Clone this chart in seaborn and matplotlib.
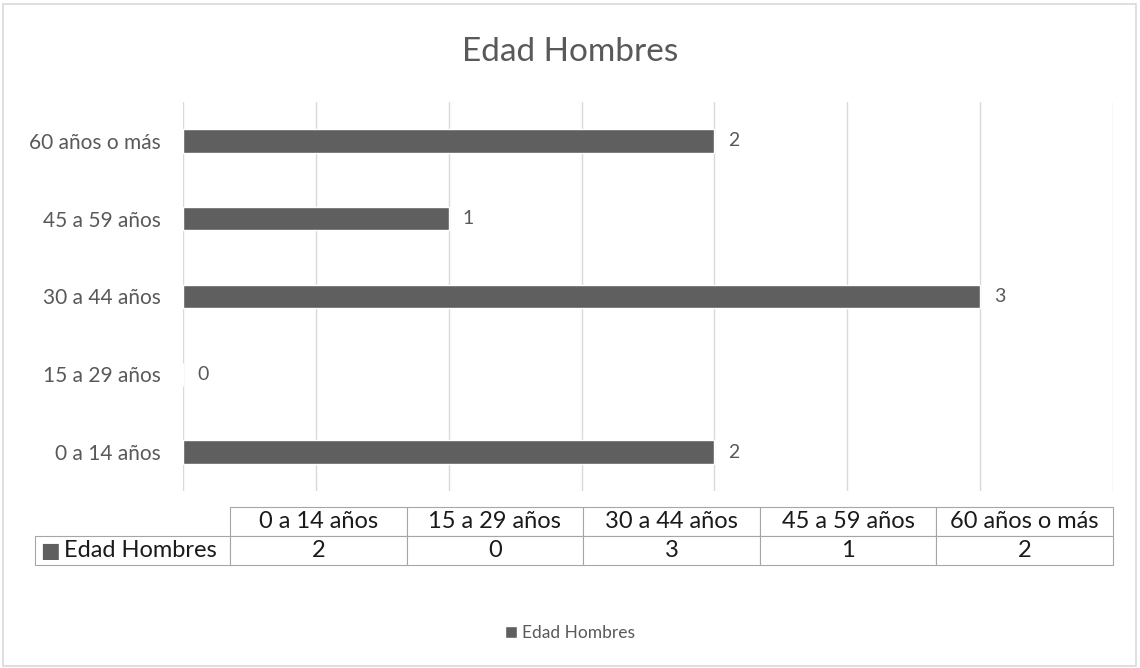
import pandas as pd
import matplotlib.pyplot as plt
import seaborn as sns
from matplotlib.patches import Rectangle, Patch

# Data
categories = ["0 a 14 años", "15 a 29 años", "30 a 44 años", "45 a 59 años", "60 años o más"]
values = [2, 0, 3, 1, 2]
series_name = "Edad Hombres"
title = "Edad Hombres"

df = pd.DataFrame({"Edad": categories, "Cantidad": values})

bar_color = "#5f5f5f"
text_color = "#595959"
grid_color = "#d9d9d9"
font = ["Lato", "DejaVu Sans"]

sns.set_style("white")
plt.rcParams["font.family"] = font

fig = plt.figure(figsize=(11.4, 6.68), dpi=100)
ax = fig.add_axes([183 / 1140, 1 - 491 / 668, 930 / 1140, 389 / 668])

# Excel draws first category at the bottom
sns.barplot(data=df, x="Cantidad", y="Edad", order=categories[::-1], orient="h",
            color=bar_color, width=0.3, saturation=1, ax=ax)

ax.set_xlim(0, 3.5)
ax.set_xticks([i * 0.5 for i in range(8)])
ax.xaxis.grid(True, color=grid_color, linewidth=1)
ax.set_axisbelow(True)
ax.set_xticklabels([])
ax.tick_params(axis="x", length=0)
ax.tick_params(axis="y", length=0, labelsize=15, labelcolor=text_color, pad=16)
ax.set_xlabel("")
ax.set_ylabel("")
for s in ax.spines.values():
    s.set_visible(False)

for cont in ax.containers:
    ax.bar_label(cont, padding=10, fontsize=14, color=text_color)

fig.text(0.5, 1 - 52 / 668, title, ha="center", va="center", fontsize=24,
         color=text_color)

# Data table under the chart
cell_text = [[series_name] + [str(v) for v in values]]
col_labels = [""] + categories
tab = ax.table(cellText=cell_text, colLabels=col_labels, cellLoc="center",
               colWidths=[195] + [176.6] * len(categories),
               bbox=[(35 - 183) / 930, (491 - 565) / 389, (1113 - 35) / 930, 58 / 389])
tab.auto_set_font_size(False)
for (r, c), cell in tab.get_celld().items():
    cell.set_edgecolor("#a6a6a6")
    cell.set_linewidth(0.8)
    cell.get_text().set_fontsize(17)
    cell.get_text().set_color("#1a1a1a")
    cell.get_text().set_fontfamily(font)
    if r == 0 and c == 0:
        cell.visible_edges = ""
    if r == 1 and c == 0:
        cell.PAD = 0.15
        cell.get_text().set_ha("left")
        cell._loc = "left"

# legend key inside the table row label
fig.text(40 / 1140, 1 - 551 / 668, "\u25a0", color=bar_color, fontsize=15,
         ha="left", va="center", family=["DejaVu Sans"])

# Legend
handles = [Patch(facecolor=bar_color, label=series_name)]
fig.legend(handles=handles, loc="center", bbox_to_anchor=(0.5, 1 - 633 / 668),
           frameon=False, fontsize=12.5, labelcolor=text_color,
           handlelength=0.7, handleheight=0.7, handletextpad=0.3)

# Chart area border
fig.patches.append(Rectangle((3 / 1140, 2 / 668), 1133 / 1140, 662 / 668,
                             transform=fig.transFigure, fill=False,
                             edgecolor=grid_color, linewidth=1.2))

fig.savefig("out.png", dpi=100)
